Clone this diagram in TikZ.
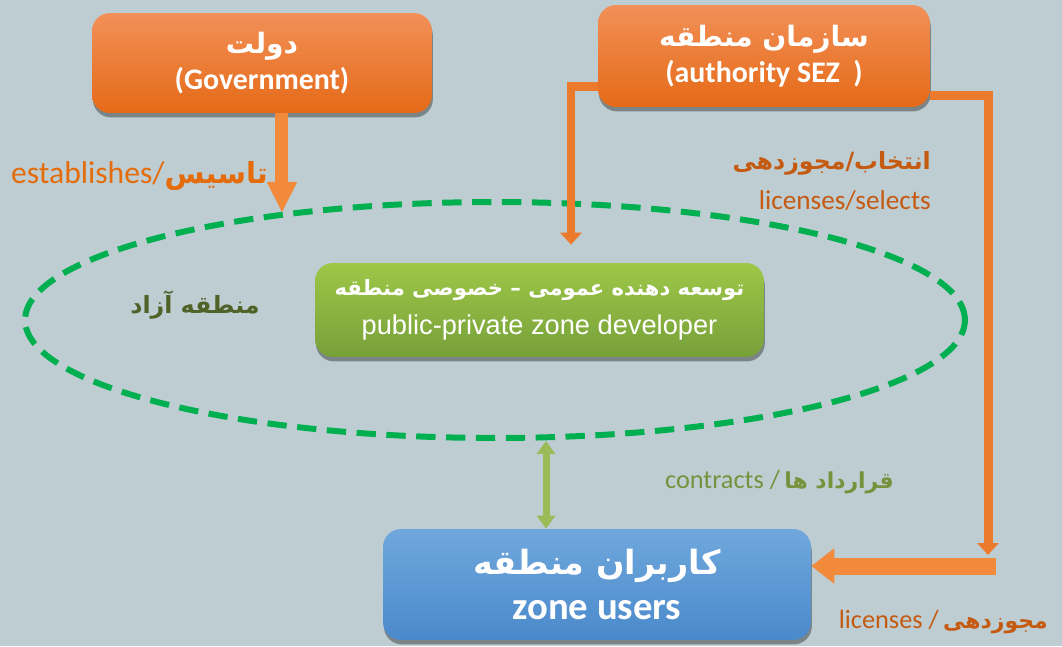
\documentclass[tikz,border=0pt]{standalone}
\usepackage{fontspec}
\setmainfont{Carlito}
\newfontfamily\fa[Script=Arabic]{DejaVu Sans}
\newfontfamily\arialfont{Liberation Sans}
\TeXXeTstate=1
\usetikzlibrary{arrows.meta,shapes.geometric,shadows}
\definecolor{bg}{HTML}{BECDD2}
\definecolor{orangetop}{HTML}{F29058}
\definecolor{orangebot}{HTML}{E56A17}
\definecolor{greentop}{HTML}{9EC748}
\definecolor{greenbot}{HTML}{77A03A}
\definecolor{bluetop}{HTML}{70A8DD}
\definecolor{bluebot}{HTML}{4A89CB}
\definecolor{zonegreen}{HTML}{00B050}
\definecolor{arroworange}{HTML}{F28A3C}
\definecolor{lineorange}{HTML}{EC7A2C}
\definecolor{lblorange}{HTML}{E46C0A}
\definecolor{lblbrown}{HTML}{C55A11}
\definecolor{lblgreen}{HTML}{76923C}
\definecolor{lbldark}{HTML}{4F6228}
\definecolor{linkgreen}{HTML}{9BBB59}
\tikzset{
  roundbox/.style={rounded corners=0.36cm, text=white, align=center,
    drop shadow={shadow xshift=0.5pt, shadow yshift=-2.5pt, opacity=0.35, fill=black}},
  orangebox/.style={roundbox, top color=orangetop, bottom color=orangebot},
  greenbox/.style={roundbox, top color=greentop, bottom color=greenbot},
  bluebox/.style={roundbox, top color=bluetop, bottom color=bluebot},
  blockarrow/.style={draw=arroworange, line width=0.26cm, -{Triangle[width=0.56cm,length=0.62cm]}},
  linkline/.style={draw=lineorange, line width=0.18cm, -{Triangle[width=0.42cm,length=0.24cm]}},
  twoway/.style={draw=linkgreen, line width=0.14cm, {Triangle[width=0.36cm,length=0.26cm]}-{Triangle[width=0.36cm,length=0.26cm]}},
}
\begin{document}
\begin{tikzpicture}[x=0.02cm,y=-0.02cm]
    \fill[bg] (0,0) rectangle (1062,646);
    \useasboundingbox (0,0) rectangle (1062,646);

    \node[draw=zonegreen, line width=3.4pt, dash pattern=on 11pt off 6pt, ellipse,
      minimum width=18.8cm, minimum height=4.72cm] (zone) at (495,320) {};

    \node[orangebox, minimum width=6.8cm, minimum height=2cm] (gov) at (262,63)
      {{\fa\bfseries\fontsize{16}{20}\selectfont\beginR دولت\endR}\\[3pt]
       {\bfseries\fontsize{17}{20}\selectfont(Government)}};
    \node[orangebox, minimum width=6.64cm, minimum height=2.04cm] (auth) at (764,56)
      {{\fa\bfseries\fontsize{16}{20}\selectfont\beginR سازمان منطقه\endR}\\[3pt]
       {\bfseries\fontsize{17}{20}\selectfont(authority SEZ~~)}};
    \node[greenbox, minimum width=8.98cm, minimum height=1.88cm] (dev) at (539.5,310)
      {{\fa\bfseries\fontsize{12}{18}\selectfont\beginR توسعه دهنده عمومی – خصوصی منطقه\endR}\\[7pt]
       {\arialfont\fontsize{15.5}{18}\selectfont public-private zone developer}};
    \node[bluebox, minimum width=8.56cm, minimum height=2.22cm] (users) at (597,584.5)
      {{\fa\bfseries\fontsize{19}{22}\selectfont\beginR کاربران منطقه\endR}\\[9pt]
       {\bfseries\fontsize{22}{24}\selectfont zone users}};

    % labels
    \node[anchor=east, text=lblorange] (est) at (274,176)
      {\fontsize{18}{20}\selectfont establishes/{\fa\bfseries\fontsize{16.5}{20}\selectfont\beginR تاسیس\endR}};
    \node[anchor=east, text=lblbrown] (sel) at (937,163)
      {\fa\bfseries\fontsize{13.5}{18}\selectfont\beginR انتخاب/مجوزدهی\endR};
    \node[anchor=east, text=lblbrown] (selen) at (937,201)
      {\fontsize{15.5}{18}\selectfont licenses/selects};
    \node[text=lbldark] (free) at (195,305)
      {\fa\bfseries\fontsize{13.5}{18}\selectfont\beginR منطقه آزاد\endR};
    \node[anchor=east, text=lblgreen] (con) at (900,482)
      {\fontsize{15}{18}\selectfont contracts /\,{\fa\bfseries\fontsize{12.5}{18}\selectfont\beginR قرارداد ها\endR}};
    \node[anchor=east, text=lblbrown] (lic) at (1054,622)
      {\fontsize{15}{18}\selectfont licenses /\,{\fa\bfseries\fontsize{12.5}{18}\selectfont\beginR مجوزدهی\endR}};

    % connectors
    \draw[blockarrow] ([xshift=0.4cm]gov.south) -- ([xshift=0.4cm]gov.south |- zone.154);
    \draw[linkline] ([yshift=-0.62cm]auth.west) -| ([xshift=0.63cm,yshift=0.36cm]dev.north);
    \coordinate (licin) at (996,566);
    \draw[linkline] ([yshift=-0.8cm]auth.east) -| ([xshift=-0.16cm,yshift=0.22cm]licin);
    \draw[blockarrow, line width=0.34cm, -{Triangle[width=0.68cm,length=0.46cm]}] (licin) -- (licin -| users.east);
    \draw[twoway] ([xshift=-1.02cm]users.north |- zone.south) -- ([xshift=-1.02cm]users.north);
\end{tikzpicture}
\end{document}
